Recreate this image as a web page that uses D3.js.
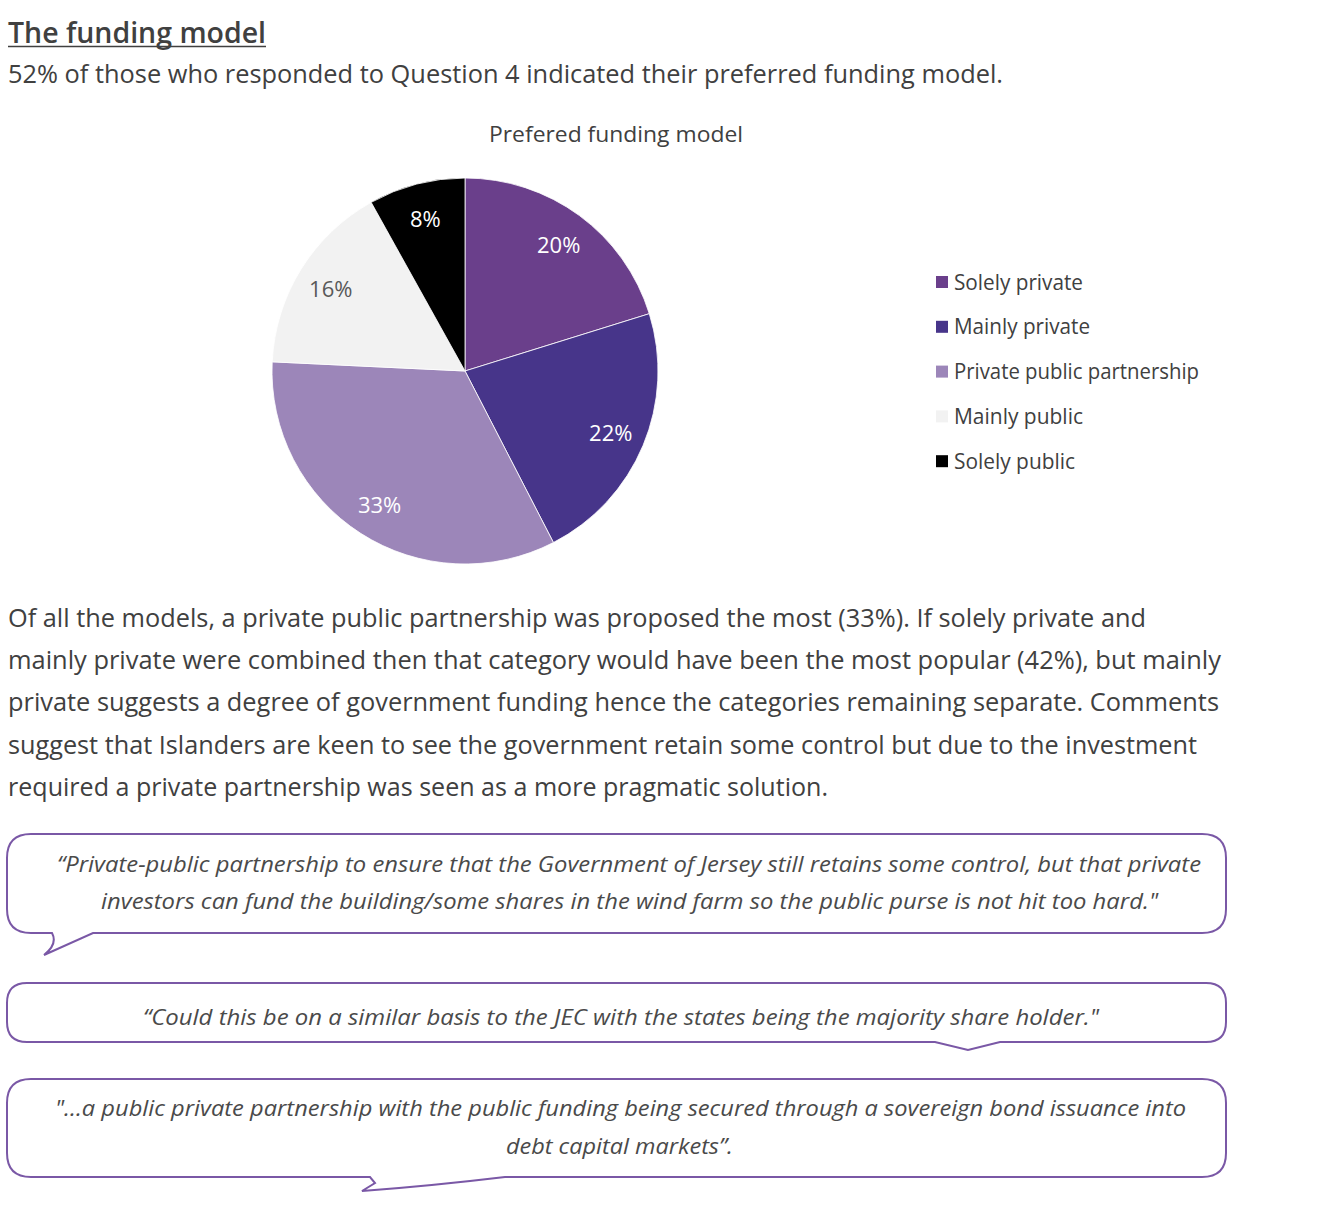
<!DOCTYPE html>
<html>
<head>
<meta charset="utf-8">
<script src="https://cdn.jsdelivr.net/npm/d3@7"></script>
<style>
  html, body { margin: 0; padding: 0; background: #ffffff; }
  svg { display: block; font-family: "Open Sans", "Noto Sans", sans-serif; }
</style>
</head>
<body>
<svg id="chart" width="1328" height="1230"></svg>
<script>
// ---- data ----
const categories = ["Solely private", "Mainly private", "Private public partnership", "Mainly public", "Solely public"];
const values = [20, 22, 33, 16, 8];
const sliceColors = ["#6a3f8b", "#47358a", "#9c86b9", "#f2f2f2", "#000000"];
const labelColors = ["#ffffff", "#ffffff", "#ffffff", "#595959", "#ffffff"];

const heading = "The funding model";
const subtitle = "52% of those who responded to Question 4 indicated their preferred funding model.";
const chartTitle = "Prefered funding model";
const paragraph = [
  "Of all the models, a private public partnership was proposed the most (33%). If solely private and",
  "mainly private were combined then that category would have been the most popular (42%), but mainly",
  "private suggests a degree of government funding hence the categories remaining separate. Comments",
  "suggest that Islanders are keen to see the government retain some control but due to the investment",
  "required a private partnership was seen as a more pragmatic solution."
];
const quotes = [
  ["\u201CPrivate-public partnership to ensure that the Government of Jersey still retains some control, but that private",
   "investors can fund the building/some shares in the wind farm so the public purse is not hit too hard.\""],
  ["\u201CCould this be on a similar basis to the JEC with the states being the majority share holder.\""],
  ["\"...a public private partnership with the public funding being secured through a sovereign bond issuance into",
   "debt capital markets\u201D."]
];

// ---- drawing ----
const svg = d3.select("#chart");
const textColor = "#404040";

function fitText(sel, width) {
  sel.attr("textLength", width).attr("lengthAdjust", "spacingAndGlyphs");
}

// Heading
svg.append("text").attr("x", 8).attr("y", 43)
  .attr("font-size", 28).attr("font-weight", 600).attr("fill", textColor)
  .text(heading).call(fitText, 258);
svg.append("line").attr("x1", 8).attr("x2", 266).attr("y1", 46.5).attr("y2", 46.5)
  .attr("stroke", textColor).attr("stroke-width", 1.6);

// Subtitle
svg.append("text").attr("x", 8).attr("y", 83)
  .attr("font-size", 25).attr("fill", textColor)
  .text(subtitle).call(fitText, 995);

// Chart title
svg.append("text").attr("x", 616).attr("y", 142).attr("text-anchor", "middle")
  .attr("font-size", 22).attr("fill", textColor)
  .text(chartTitle).call(fitText, 254);

// Pie
const cx = 465, cy = 371, R = 193;
const color = d3.scaleOrdinal().domain(categories).range(sliceColors);
const pie = d3.pie().sort(null).value(d => d.value);
const data = categories.map((c, i) => ({ name: c, value: values[i], lc: labelColors[i] }));
const arcs = pie(data);
const arc = d3.arc().innerRadius(0).outerRadius(R);
const labelArc = d3.arc().innerRadius(158).outerRadius(158);

const g = svg.append("g").attr("transform", `translate(${cx},${cy})`);
g.selectAll("path.slice").data(arcs).join("path")
  .attr("class", "slice")
  .attr("d", arc)
  .attr("fill", d => color(d.data.name))
  .attr("stroke", "#ffffff").attr("stroke-width", 0.8);

g.selectAll("text.lbl").data(arcs).join("text")
  .attr("class", "lbl")
  .attr("transform", d => `translate(${labelArc.centroid(d)})`)
  .attr("text-anchor", "middle").attr("dominant-baseline", "central")
  .attr("font-size", 22).attr("fill", d => d.data.lc)
  .text(d => d.data.value + "%");

// Legend
const legend = svg.append("g").attr("transform", "translate(936,282)");
const li = legend.selectAll("g").data(categories).join("g")
  .attr("transform", (d, i) => `translate(0,${i * 44.8})`);
li.append("rect").attr("x", 0).attr("y", -6).attr("width", 12).attr("height", 12)
  .attr("fill", d => color(d));
li.append("text").attr("x", 18).attr("y", 7.5)
  .attr("font-size", 21).attr("fill", textColor)
  .text(d => d);
const legendWidths = [129, 136, 245, 129, 121];
li.selectAll("text").each(function(d) {
  const i = categories.indexOf(d);
  d3.select(this).attr("textLength", legendWidths[i]).attr("lengthAdjust", "spacingAndGlyphs");
});

// Paragraph
const paraWidths = [1138, 1213, 1211, 1189, 820];
svg.append("g").selectAll("text").data(paragraph).join("text")
  .attr("x", 8).attr("y", (d, i) => 627 + i * 42.2)
  .attr("font-size", 25).attr("fill", textColor)
  .text(d => d)
  .each(function(d, i) { d3.select(this).call(fitText, paraWidths[i]); });

// Speech bubbles
const bubbleStroke = "#7a58a6";
function bubblePath(x0, y0, x1, y1, r, tail) {
  const p = d3.path();
  p.moveTo(x0 + r, y0);
  p.lineTo(x1 - r, y0);
  p.quadraticCurveTo(x1, y0, x1, y0 + r);
  p.lineTo(x1, y1 - r);
  p.quadraticCurveTo(x1, y1, x1 - r, y1);
  tail(p);
  p.lineTo(x0 + r, y1);
  p.quadraticCurveTo(x0, y1, x0, y1 - r);
  p.lineTo(x0, y0 + r);
  p.quadraticCurveTo(x0, y0, x0 + r, y0);
  p.closePath();
  return p.toString();
}

const boxes = [
  { x0: 7, y0: 834, x1: 1226, y1: 933, r: 24,
    tail: p => { p.lineTo(93, 933); p.lineTo(44, 955); p.quadraticCurveTo(58, 944, 52, 933); },
    lines: [872, 909], starts: [57, 101], widths: [1144, 1057] },
  { x0: 7, y0: 983, x1: 1226, y1: 1042, r: 20,
    tail: p => { p.lineTo(1000, 1042); p.lineTo(968, 1050); p.lineTo(935, 1042); },
    lines: [1025], starts: [143], widths: [956] },
  { x0: 7, y0: 1079, x1: 1226, y1: 1177, r: 24,
    tail: p => { p.lineTo(505, 1177); p.quadraticCurveTo(430, 1186, 362, 1191); p.lineTo(375, 1183); p.lineTo(370, 1177); },
    lines: [1116, 1154], starts: [55, 506], widths: [1131, 227] }
];

boxes.forEach((b, bi) => {
  svg.append("path").attr("d", bubblePath(b.x0, b.y0, b.x1, b.y1, b.r, b.tail))
    .attr("fill", "#ffffff").attr("stroke", bubbleStroke).attr("stroke-width", 2);
  quotes[bi].forEach((line, k) => {
    svg.append("text")
      .attr("x", b.starts[k]).attr("y", b.lines[k])
      .attr("font-size", 22).attr("font-style", "italic").attr("fill", "#4a4a4a")
      .text(line).call(fitText, b.widths[k]);
  });
});
</script>
</body>
</html>
